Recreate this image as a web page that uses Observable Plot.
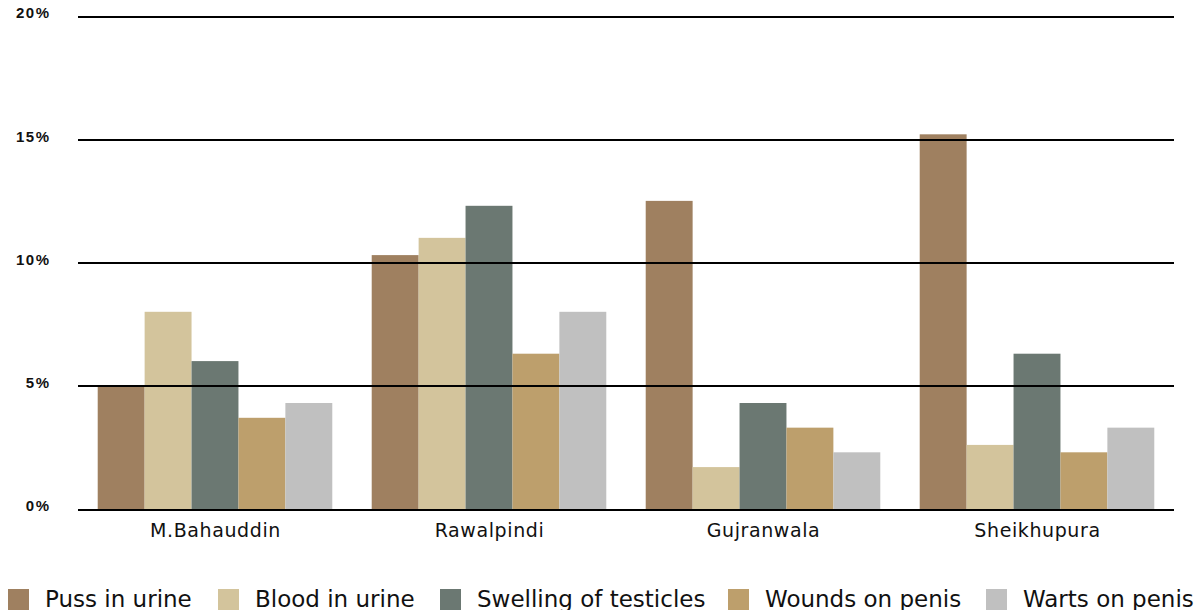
<!DOCTYPE html>
<html>
<head>
<meta charset="utf-8">
<script src="https://cdn.jsdelivr.net/npm/d3@7"></script>
<script src="https://cdn.jsdelivr.net/npm/@observablehq/plot@0.6"></script>
<style>
  html, body { margin: 0; padding: 0; background: #fff; overflow: hidden; }
  #legend { position: relative; height: 55px; font-family: "DejaVu Sans", sans-serif; font-size: 23px; color: #111; white-space: nowrap; }
  #legend .item { position: absolute; display: flex; align-items: center; }
  #legend .sw { width: 21px; height: 21px; margin-right: 16px; }
</style>
</head>
<body>
<div id="chart"></div>
<div id="legend"></div>
<script>
const districts = ["M.Bahauddin", "Rawalpindi", "Gujranwala", "Sheikhupura"];
const symptoms = ["Puss in urine", "Blood in urine", "Swelling of testicles", "Wounds on penis", "Warts on penis"];
const colors = ["#9f8060", "#d3c49c", "#6b7872", "#bd9f6c", "#c0c0c0"];
const pussInUrine = [5.0, 10.3, 12.5, 15.2];
const bloodInUrine = [8.0, 11.0, 1.7, 2.6];
const swellingOfTesticles = [6.0, 12.3, 4.3, 6.3];
const woundsOnPenis = [3.7, 6.3, 3.3, 2.3];
const wartsOnPenis = [4.3, 8.0, 2.3, 3.3];
const yTicks = [0, 5, 10, 15, 20];

const series = [pussInUrine, bloodInUrine, swellingOfTesticles, woundsOnPenis, wartsOnPenis];
const data = [];
districts.forEach((d, i) => symptoms.forEach((s, j) => data.push({district: d, symptom: s, value: series[j][i]})));

const chart = Plot.plot({
  width: 1195,
  height: 555,
  marginLeft: 77,
  marginRight: 20,
  marginTop: 16,
  marginBottom: 46,
  style: {fontFamily: "DejaVu Sans, sans-serif", background: "#fff"},
  fx: {domain: districts, padding: 0, round: true, label: null, axis: null},
  x: {domain: symptoms, paddingInner: 0, paddingOuter: 0.42, round: false, axis: null},
  y: {domain: [0, 20], ticks: yTicks, label: null, axis: null},
  color: {domain: symptoms, range: colors},
  marks: [
    Plot.barY(data, {fx: "district", x: "symptom", y: "value", fill: "symptom", inset: 0}),
    Plot.ruleY(yTicks, {stroke: "#000", strokeWidth: 2, shapeRendering: "crispEdges"}),
    Plot.axisY({ticks: yTicks, tickSize: 0, tickPadding: 28, tickFormat: d => d + "%", fontFamily: "Liberation Sans, Arial, sans-serif", fontWeight: "bold", fontSize: 15, fill: "#111", dy: -3}),
    Plot.axisFx({anchor: "bottom", tickSize: 0, tickPadding: 14, fontSize: 19, fill: "#111", label: null})
  ]
});
d3.select(chart).selectAll('g[aria-label="y-axis tick label"]')
  .style("font-size", "15px").style("font-weight", "bold").style("letter-spacing", "1.5px");
d3.select(chart).selectAll('g[aria-label="fx-axis tick label"]')
  .style("font-size", "19px").style("letter-spacing", "0.6px");
document.getElementById("chart").appendChild(chart);

const legend = document.getElementById("legend");
const lx = [8, 218, 440, 728, 986];
symptoms.forEach((s, i) => {
  const it = document.createElement("div");
  it.className = "item";
  it.style.left = lx[i] + "px";
  it.style.top = "31px";
  const sw = document.createElement("div");
  sw.className = "sw";
  sw.style.background = colors[i];
  const t = document.createElement("span");
  t.textContent = s;
  it.appendChild(sw); it.appendChild(t);
  legend.appendChild(it);
});
</script>
</body>
</html>
